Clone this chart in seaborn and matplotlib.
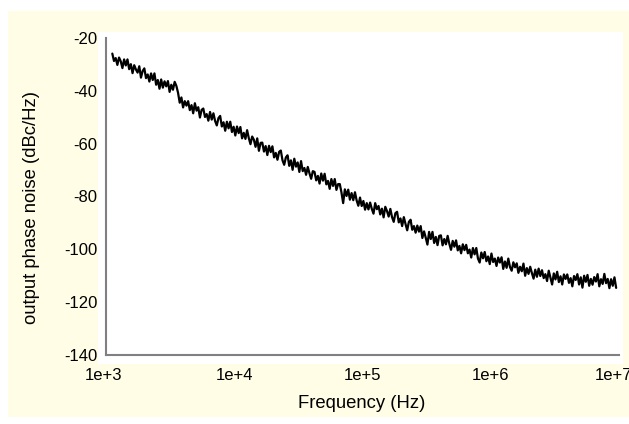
import numpy as np
import pandas as pd
import matplotlib
matplotlib.use("Agg")
import matplotlib.pyplot as plt
import matplotlib.transforms as mtransforms
import seaborn as sns
from matplotlib.patches import Rectangle
from matplotlib.ticker import FixedLocator, FixedFormatter, NullLocator

# ---- data ----
freq_start = 1.12e3
freq_stop = 9.5e6
noise_dbc = [
    -25.9, -28.7, -27.6, -30.2, -27.4, -28.8, -31.4, -28.1, -30.4, -28.1, -31.8, -29.9, -33.3, -30.3, -31.9,
    -33.1, -30.7, -35.0, -32.5, -31.5, -35.2, -33.8, -36.5, -33.4, -35.9, -33.4, -37.7, -35.9, -39.2, -35.7,
    -38.8, -36.4, -38.3, -36.3, -40.4, -37.7, -39.6, -36.6, -38.1, -40.7, -44.5, -42.5, -46.3, -43.9, -45.6,
    -43.9, -47.3, -45.4, -48.5, -44.7, -47.5, -46.2, -50.1, -47.2, -46.7, -49.9, -48.8, -51.3, -48.0, -50.9,
    -48.5, -51.4, -53.1, -50.3, -49.5, -53.5, -51.9, -55.1, -51.7, -54.2, -51.7, -55.6, -53.6, -56.9, -53.5,
    -56.0, -53.7, -58.0, -55.9, -58.2, -54.9, -57.9, -60.2, -57.3, -58.5, -61.2, -58.0, -62.7, -59.7, -59.6,
    -63.0, -60.9, -64.3, -60.8, -63.2, -61.0, -65.2, -63.5, -66.1, -63.1, -62.6, -66.3, -68.0, -65.2, -64.4,
    -68.4, -66.3, -69.9, -65.7, -68.7, -67.1, -70.7, -66.6, -70.4, -69.2, -71.8, -68.8, -71.2, -73.3, -70.4,
    -70.7, -73.9, -72.2, -75.1, -71.3, -74.0, -71.4, -75.4, -74.1, -77.1, -73.4, -76.0, -73.4, -77.5, -75.3,
    -75.3, -78.5, -82.5, -77.3, -79.8, -77.4, -81.2, -78.7, -81.4, -78.4, -81.5, -83.5, -80.4, -83.6, -81.7,
    -85.0, -82.5, -84.9, -82.3, -84.7, -86.5, -82.5, -84.8, -83.6, -86.8, -84.6, -87.9, -83.9, -85.5, -87.6,
    -84.7, -87.8, -89.6, -86.3, -85.8, -89.8, -88.3, -91.2, -87.8, -90.4, -92.8, -89.6, -88.8, -92.6, -91.2,
    -93.7, -91.0, -93.3, -91.2, -95.7, -93.2, -95.6, -98.2, -93.4, -96.1, -93.4, -97.6, -95.3, -98.4, -94.9,
    -94.7, -98.5, -96.1, -98.1, -94.9, -97.9, -100.2, -96.8, -99.0, -96.6, -100.4, -98.7, -101.5, -98.1, -100.3,
    -98.3, -101.5, -100.1, -103.1, -99.5, -101.9, -99.5, -103.5, -105.0, -101.2, -103.4, -101.0, -104.5, -102.7, -105.6,
    -101.6, -104.8, -103.5, -106.3, -103.1, -105.0, -103.0, -107.4, -104.6, -107.0, -103.5, -106.7, -108.1, -104.9, -106.8,
    -105.3, -108.9, -106.6, -108.3, -105.4, -110.0, -107.1, -109.3, -106.6, -109.0, -111.1, -107.7, -110.4, -107.3, -110.1,
    -107.9, -110.9, -109.4, -112.0, -108.1, -110.7, -113.3, -109.1, -111.4, -108.5, -112.4, -110.2, -113.3, -109.5, -111.2,
    -109.5, -112.7, -110.9, -114.0, -110.1, -111.6, -109.4, -113.3, -110.6, -114.5, -110.0, -112.3, -109.7, -113.8, -111.2,
    -113.4, -110.5, -112.2, -109.4, -114.0, -111.3, -113.1, -109.3, -112.8, -111.2, -114.7, -111.3, -113.8, -110.6, -114.6,
]
x_ticks = [1e3, 1e4, 1e5, 1e6, 1e7]
x_tick_labels = ["1e+3", "1e+4", "1e+5", "1e+6", "1e+7"]
y_ticks = [-140, -120, -100, -80, -60, -40, -20]
y_tick_labels = ["-140", "-120", "-100", "-80", "-60", "-40", "-20"]

freqs = np.geomspace(freq_start, freq_stop, len(noise_dbc))
df = pd.DataFrame({"freq": freqs, "noise": noise_dbc})

sns.set_theme(style="white")
plt.rcParams["font.family"] = ["Liberation Sans", "DejaVu Sans"]

W, H = 629, 424
fig = plt.figure(figsize=(W / 100, H / 100), dpi=100, facecolor="white")

def px_rect(x0, y0, x1, y1, color, z):
    fig.patches.append(Rectangle((x0 / W, 1 - y1 / H), (x1 - x0) / W, (y1 - y0) / H,
                                 transform=fig.transFigure, facecolor=color,
                                 edgecolor="none", zorder=z))

px_rect(8, 11, 629, 417, "#FFFDE6", -10)
px_rect(98, 32, 623, 364, "white", -9)

ax = fig.add_axes([106 / W, 1 - 355 / H, (619 - 106) / W, (355 - 38) / H])
ax.set_facecolor("none")

sns.lineplot(data=df, x="freq", y="noise", ax=ax, color="black", linewidth=1.6)

ax.set_xscale("log")
ax.set_xlim(1e3, 1e7)
ax.set_ylim(-140, -20)
ax.xaxis.set_major_locator(FixedLocator(x_ticks))
ax.xaxis.set_major_formatter(FixedFormatter(x_tick_labels))
ax.xaxis.set_minor_locator(NullLocator())
ax.yaxis.set_major_locator(FixedLocator(y_ticks))
ax.yaxis.set_major_formatter(FixedFormatter(y_tick_labels))

for s in ["top", "right"]:
    ax.spines[s].set_visible(False)
for s in ["left", "bottom"]:
    ax.spines[s].set_color("#808080")
    ax.spines[s].set_linewidth(1.5)

ax.tick_params(axis="both", which="major", direction="out", length=4.5, width=1.2,
               color="#808080", labelsize=12, labelcolor="black")
ax.tick_params(axis="y", pad=1.5)
ax.tick_params(axis="x", pad=5)

ax.set_xlabel("")
ax.set_ylabel("")
fig.text(32 / W, 1 - 207 / H, "output phase noise (dBc/Hz)", rotation=90,
         ha="center", va="center", fontsize=13.3, color="black")
fig.text(362 / W, 1 - 403 / H, "Frequency (Hz)", ha="center", va="center",
         fontsize=13.3, color="black")

# nudge the edge labels like the reference
fig.canvas.draw()
xt = ax.xaxis.get_major_ticks()
shift = {0: -3, len(xt) - 1: -6}
for i, px in shift.items():
    lab = xt[i].label1
    lab.set_transform(lab.get_transform() +
                      mtransforms.ScaledTranslation(px / 100, 0, fig.dpi_scale_trans))

fig.savefig("out.png", dpi=100, facecolor="white")
